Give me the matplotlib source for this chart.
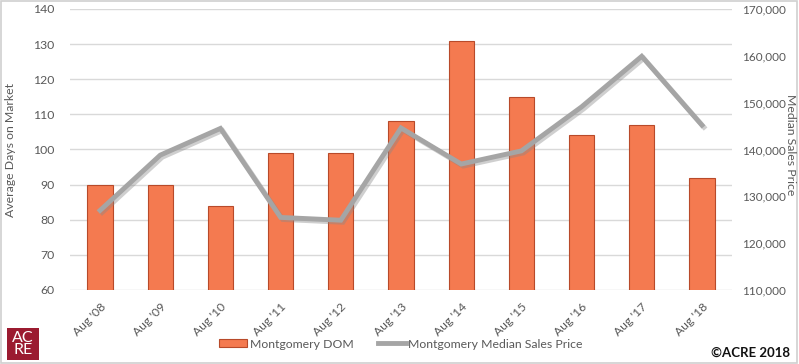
import matplotlib
matplotlib.use("Agg")
import matplotlib.pyplot as plt
import matplotlib.patheffects as pe
from matplotlib.patches import Rectangle
from matplotlib.lines import Line2D
import numpy as np

categories = ["Aug '08", "Aug '09", "Aug '10", "Aug '11", "Aug '12", "Aug '13",
              "Aug '14", "Aug '15", "Aug '16", "Aug '17", "Aug '18"]
dom = [90, 90, 84, 99, 99, 108, 131, 115, 104, 107, 92]
median_price = [127000, 138800, 144500, 125500, 124900, 144600,
                136900, 139700, 149100, 159900, 145200]
left_ticks = [60, 70, 80, 90, 100, 110, 120, 130, 140]
right_ticks = [110000, 120000, 130000, 140000, 150000, 160000, 170000]

plt.rcParams['font.family'] = ['Lato', 'DejaVu Sans']

fig = plt.figure(figsize=(7.99, 3.64), dpi=100)
fig.patch.set_facecolor('white')
fig.add_artist(Rectangle((0.001, 0.002), 0.997, 0.995, transform=fig.transFigure,
                         fill=False, edgecolor='#D0D0D0', linewidth=1.2))

ax = fig.add_axes([70/799, 1-290/364, (732-70)/799, (290-9)/364])
x = np.arange(len(categories))
tick_color = '#595959'
bar_color = '#F47A50'
bar_edge = '#B84A2A'
line_color = '#A5A5A5'
fs = 8.8

ax.bar(x, dom, width=0.42, color=bar_color, edgecolor=bar_edge,
       linewidth=0.8, zorder=2)
ax.set_ylim(60, 140)
ax.set_xlim(-0.5, len(categories) - 0.5)
ax.set_yticks(left_ticks)
ax.yaxis.grid(True, color='#D9D9D9', linewidth=1)
ax.set_axisbelow(True)
for s in ax.spines.values():
    s.set_visible(False)
ax.tick_params(axis='both', length=0, colors=tick_color, labelsize=fs)
ax.tick_params(axis='y', pad=11)
ax.set_xticks(x)
ax.set_xticklabels(categories, rotation=45, ha='right', rotation_mode='anchor',
                   fontsize=fs, color=tick_color)
ax.tick_params(axis='x', pad=8)

fig.text(11/799, 1-150/364, 'Average Days on Market', fontsize=fs, color=tick_color,
         rotation=90, ha='center', va='center')

ax2 = ax.twinx()
ax2.plot(x, median_price, color=line_color, linewidth=3.5, solid_joinstyle='miter',
         zorder=3,
         path_effects=[pe.SimpleLineShadow(offset=(1.5, -1.5), shadow_color='#888888', alpha=0.4),
                       pe.Normal()])
ax2.set_ylim(110000, 170000)
ax2.set_yticks(right_ticks)
ax2.set_yticklabels([f"{v:,}" for v in right_ticks])
for s in ax2.spines.values():
    s.set_visible(False)
ax2.tick_params(axis='y', length=0, colors=tick_color, labelsize=8.5, pad=7.5)

fig.text(790.5/799, 1-145/364, 'Median Sales Price', fontsize=fs, color=tick_color,
         rotation=-90, ha='center', va='center')

handles = [Rectangle((0, 0), 1, 1, facecolor=bar_color, edgecolor=bar_edge, linewidth=0.8),
           Line2D([0], [0], color=line_color, linewidth=3.5)]
fig.legend(handles, ['Montgomery DOM', 'Montgomery Median Sales Price'],
           loc='center', bbox_to_anchor=(401/799, 1-344/364), ncol=2, frameon=False,
           fontsize=fs, labelcolor=tick_color, handlelength=2.3, handleheight=0.6,
           columnspacing=2.0, handletextpad=0.2)

fig.add_artist(Rectangle((7/799, 1-360/364), 32/799, 32/364, transform=fig.transFigure,
                         facecolor='#9B1B30', edgecolor='none'))
fig.text(23/799, 1-344/364, 'AC\nRE', color='white', fontsize=11.5, ha='center',
         va='center', linespacing=0.85)

fig.text(790/799, 1-353/364, '©ACRE 2018', fontsize=9.5, fontweight='bold', ha='right',
         va='center', color='#111111')

fig.savefig('out.png', dpi=100)
